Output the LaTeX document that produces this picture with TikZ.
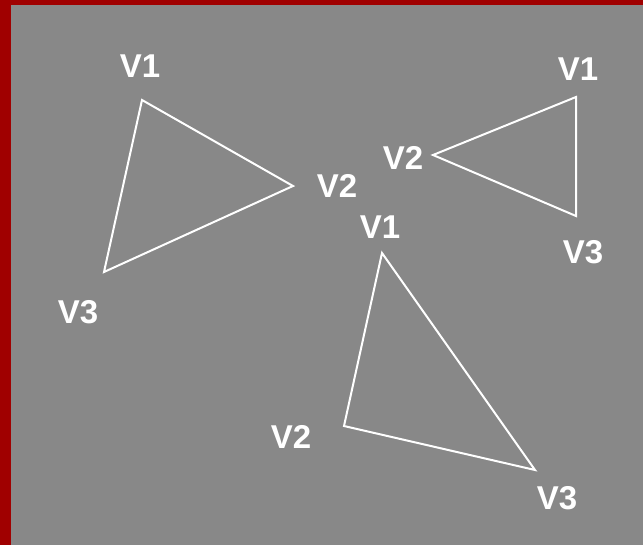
\documentclass[tikz,border=0pt]{standalone}
\usepackage{fontspec}
\setmainfont{Liberation Sans}
\definecolor{bgray}{HTML}{888888}
\definecolor{bred}{HTML}{A00000}
\begin{document}
\begin{tikzpicture}[x=1pt,y=-1pt,
  edge/.style={draw=white,line width=2pt},
  lbl/.style={text=white,font=\fontsize{33}{33}\selectfont\bfseries,inner sep=0pt},
  pt/.style={coordinate}]
\fill[bred] (0,0) rectangle (643,545);
\fill[bgray] (11,5) rectangle (643,545);
\useasboundingbox (0,0) rectangle (643,545);
% triangle 1
\node[pt] (a1) at (142,100) {};
\node[pt] (a2) at (293,186) {};
\node[pt] (a3) at (104,272) {};
\draw[edge] (a1) -- (a2) -- (a3) -- cycle;
\node[lbl] (la1) at (140,66) {V1};
\node[lbl] (la2) at (337,186) {V2};
\node[lbl] (la3) at (78,312) {V3};
% triangle 2
\node[pt] (b1) at (576,97) {};
\node[pt] (b2) at (433,155) {};
\node[pt] (b3) at (576,216) {};
\draw[edge] (b1) -- (b2) -- (b3) -- cycle;
\node[lbl] (lb1) at (578,69) {V1};
\node[lbl] (lb2) at (403,158) {V2};
\node[lbl] (lb3) at (583,252) {V3};
% triangle 3
\node[pt] (c1) at (382,253) {};
\node[pt] (c2) at (344,426) {};
\node[pt] (c3) at (535,470) {};
\draw[edge] (c1) -- (c2) -- (c3) -- cycle;
\node[lbl] (lc1) at (380,227) {V1};
\node[lbl] (lc2) at (291,437) {V2};
\node[lbl] (lc3) at (557,498) {V3};
\end{tikzpicture}
\end{document}
